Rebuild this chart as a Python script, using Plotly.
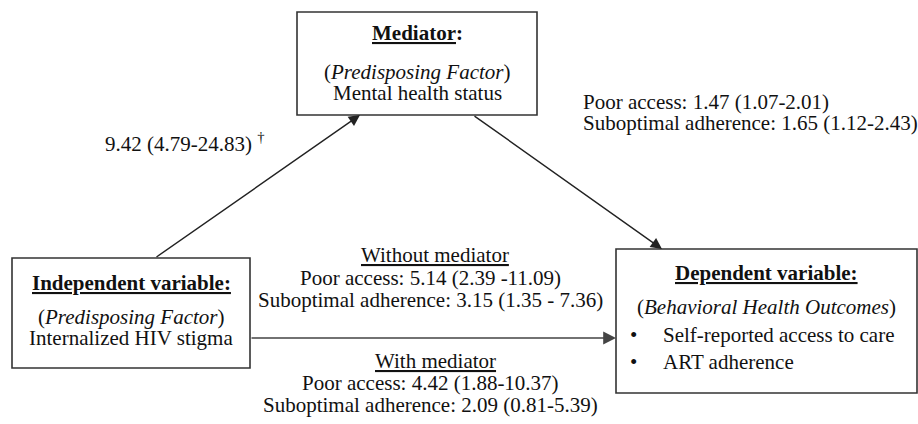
import plotly.graph_objects as go

W, H = 918, 424
FONT = "Liberation Serif, Times New Roman, serif"
FS = 21
TXT = "#111111"
LINE = "#222222"

# ---- Node texts ----
mediator_title = "Mediator"
mediator_lines = ["(<i>Predisposing Factor</i>)", "Mental health status"]
independent_title = "Independent variable:"
independent_lines = ["(<i>Predisposing Factor</i>)", "Internalized HIV stigma"]
dependent_title = "Dependent variable:"
dependent_subtitle = "(<i>Behavioral Health Outcomes</i>)"
dependent_items = ["Self-reported access to care", "ART adherence"]

# ---- Path estimates: odds ratio (95% CI) ----
path_a = ("9.42", "4.79-24.83")
outcomes = ["Poor access", "Suboptimal adherence"]
path_b = [("1.47", "1.07-2.01"), ("1.65", "1.12-2.43")]
without_mediator = [("5.14", "2.39 -11.09"), ("3.15", "1.35 - 7.36")]
with_mediator = [("4.42", "1.88-10.37"), ("2.09", "0.81-5.39")]
without_label = "Without mediator"
with_label = "With mediator"

# ---- Layout of the diagram (pixel space) ----
boxes = {
    "med": (297, 12, 537, 115),
    "ind": (12, 258, 250, 368),
    "dep": (616, 249, 917, 393),
}

fig = go.Figure()
ann = []


def text(x, y, s, xanchor="center", size=FS):
    ann.append(dict(x=x, y=y, xref="x", yref="y", text=s, showarrow=False,
                    xanchor=xanchor, yanchor="middle",
                    font=dict(family=FONT, size=size, color=TXT)))


def arrow(x0, y0, x1, y1, color=LINE, width=1.4):
    ann.append(dict(x=x1, y=y1, ax=x0, ay=y0, xref="x", yref="y",
                    axref="x", ayref="y", text="", showarrow=True,
                    arrowhead=2, arrowsize=1.6, arrowwidth=width,
                    arrowcolor=color, standoff=0, startstandoff=0))


shapes = []
for k, (x0, y0, x1, y1) in boxes.items():
    shapes.append(dict(type="rect", xref="x", yref="y", x0=x0, y0=y0, x1=x1, y1=y1,
                       line=dict(color="#333333", width=1.6), fillcolor="rgba(0,0,0,0)"))

# Mediator box
mx = (boxes["med"][0] + boxes["med"][2]) / 2
text(mx, 33, f"<b><u>{mediator_title}</u>:</b>")
text(mx, 72, mediator_lines[0])
text(mx, 93, mediator_lines[1])

# Independent box
ix = (boxes["ind"][0] + boxes["ind"][2]) / 2
text(ix, 283, f"<b><u>{independent_title}</u></b>")
text(ix, 317, independent_lines[0])
text(ix, 338, independent_lines[1])

# Dependent box
dx = (boxes["dep"][0] + boxes["dep"][2]) / 2
text(dx, 273, f"<b><u>{dependent_title}</u></b>")
text(dx, 307, dependent_subtitle)
for i, item in enumerate(dependent_items):
    yy = 335 + 27 * i
    text(633, yy, "•", xanchor="center")
    text(661, yy, item, xanchor="left")

# Arrows
arrow(155, boxes["ind"][1], 360, boxes["med"][3])
arrow(473, boxes["med"][3], 662, boxes["dep"][1])
arrow(boxes["ind"][2], 338, boxes["dep"][0], 338, color="#444444", width=1.6)

# Path a
text(103, 142, f"{path_a[0]} ({path_a[1]}) <sup>†</sup>", xanchor="left")

# Path b
for i, (o, (est, ci)) in enumerate(zip(outcomes, path_b)):
    text(581, 102 + 21 * i, f"{o}: {est} ({ci})", xanchor="left")

# Total effect (without mediator)
cx = 430
text(435, 255, f"<u>{without_label}</u>")
for i, (o, (est, ci)) in enumerate(zip(outcomes, without_mediator)):
    text(cx, 278 + 22 * i, f"{o}: {est} ({ci})")

# Direct effect (with mediator)
text(435, 361, f"<u>{with_label}</u>")
for i, (o, (est, ci)) in enumerate(zip(outcomes, with_mediator)):
    text(cx, 383 + 22 * i, f"{o}: {est} ({ci})")

fig.update_layout(
    width=W, height=H, autosize=False,
    margin=dict(l=0, r=0, t=0, b=0, pad=0),
    paper_bgcolor="white", plot_bgcolor="white",
    xaxis=dict(range=[0, W], visible=False, fixedrange=True),
    yaxis=dict(range=[H, 0], visible=False, fixedrange=True),
    shapes=shapes, annotations=ann, showlegend=False,
)

fig.write_html("out.html", config={"displayModeBar": False},
               post_script="document.body.style.margin='0';")
